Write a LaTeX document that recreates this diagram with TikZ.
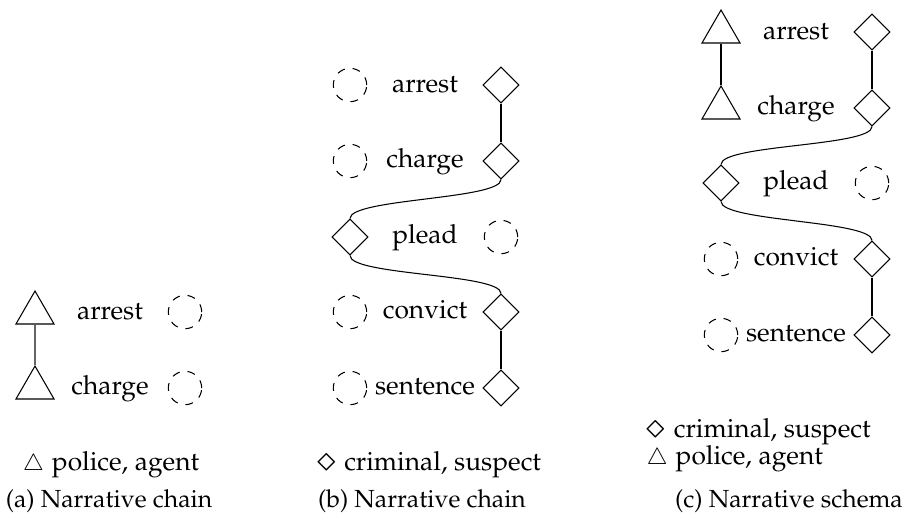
\documentclass[tikz,border=0pt]{standalone}
\usepackage[T1]{fontenc}
\usepackage{mathpazo}
\usetikzlibrary{shapes.geometric}
\newcommand{\legtri}{{\fontsize{8.5}{9}\selectfont$\triangle$}\hspace{0.3em}}
\newcommand{\legdia}{\raisebox{-0.6pt}{\fontsize{13.5}{14}\selectfont$\diamond$}\hspace{0.3em}}
\tikzset{
  tri/.style={regular polygon, regular polygon sides=3, draw, minimum size=16.7pt, inner sep=0pt},
  dia/.style={diamond, draw, shape aspect=1, minimum width=13.7pt, minimum height=13.7pt, inner sep=0pt},
  ent/.style={circle, draw, dashed, minimum size=12.7pt, inner sep=0pt},
  lbl/.style={anchor=base, inner sep=0pt},
  captext/.style={anchor=base, inner sep=0pt, font=\fontsize{9.4}{11}\selectfont},
  link/.style={draw, line width=0.4pt},
}
\begin{document}
\begin{tikzpicture}[x=0.38pt,y=-0.38pt]
\useasboundingbox (0,0) rectangle (909,523);
% ---------- (a)
\node[tri] (aA) at (35,313) {};
\node[tri] (aC) at (35,388) {};
\node[lbl] (aAt) at (110,319) {arrest};
\node[lbl] (aCt) at (110,394) {charge};
\node[ent] (aAe) at (185,312) {};
\node[ent] (aCe) at (185,388) {};
\draw[link, black!60] (aA.south) -- (aC.north);
\node[lbl] (aleg) at (111,470) {\legtri police, agent};
\node[captext] (acap) at (109,507) {(a) Narrative chain};
% ---------- (b)
\node[ent] (bAe) at (350,85) {};
\node[ent] (bCe) at (350,161) {};
\node[dia] (bPd) at (350,237) {};
\node[ent] (bVe) at (350,312) {};
\node[ent] (bSe) at (350,388) {};
\node[lbl] (bAt) at (425,92) {arrest};
\node[lbl] (bCt) at (425,167) {charge};
\node[lbl] (bPt) at (425,243) {plead};
\node[lbl] (bVt) at (425,318) {convict};
\node[lbl] (bSt) at (425,394) {sentence};
\node[dia] (bAd) at (501,85) {};
\node[dia] (bCd) at (501,161) {};
\node[ent] (bPe) at (501,237) {};
\node[dia] (bVd) at (501,312) {};
\node[dia] (bSd) at (501,388) {};
\draw[link] (bAd.south) -- (bCd.north);
\draw[link] (bCd.south) .. controls +(0,20) and +(0,-20) .. (bPd.north);
\draw[link] (bPd.south) .. controls +(0,20) and +(0,-20) .. (bVd.north);
\draw[link] (bVd.south) -- (bSd.north);
\node[lbl] (bleg) at (429,470) {\legdia criminal, suspect};
\node[captext] (bcap) at (422,507) {(b) Narrative chain};
% ---------- (c)
\node[tri] (cA) at (721,32) {};
\node[tri] (cC) at (721,108) {};
\node[dia] (cPd) at (721,183) {};
\node[ent] (cVe) at (721,259) {};
\node[ent] (cSe) at (721,335) {};
\node[lbl] (cAt) at (796,39) {arrest};
\node[lbl] (cCt) at (796,114) {charge};
\node[lbl] (cPt) at (796,189) {plead};
\node[lbl] (cVt) at (796,265) {convict};
\node[lbl] (cSt) at (796,341) {sentence};
\node[dia] (cAd) at (872,32) {};
\node[dia] (cCd) at (872,108) {};
\node[ent] (cPe) at (872,183) {};
\node[dia] (cVd) at (872,259) {};
\node[dia] (cSd) at (872,335) {};
\draw[link] (cA.south) -- (cC.north);
\draw[link] (cAd.south) -- (cCd.north);
\draw[link] (cCd.south) .. controls +(0,20) and +(0,-20) .. (cPd.north);
\draw[link] (cPd.south) .. controls +(0,20) and +(0,-20) .. (cVd.north);
\draw[link] (cVd.south) -- (cSd.north);
\node[lbl, anchor=base west] (cleg1) at (646,437) {\legdia criminal, suspect};
\node[lbl, anchor=base west] (cleg2) at (646,464) {\legtri police, agent};
\node[captext] (ccap) at (789,507) {(c) Narrative schema};
\end{tikzpicture}
\end{document}
